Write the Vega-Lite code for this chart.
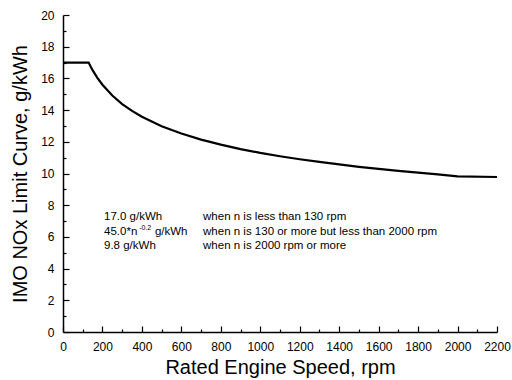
{
  "$schema": "https://vega.github.io/schema/vega-lite/v6.json",
  "width": 434,
  "height": 317,
  "autosize": "none",
  "padding": {"left": 63, "top": 15, "right": 15, "bottom": 48},
  "config": {
    "view": {"stroke": null},
    "font": "Liberation Sans",
    "axis": {
      "grid": false,
      "domainColor": "black",
      "tickColor": "black",
      "labelColor": "black",
      "titleColor": "black",
      "labelFont": "Liberation Sans",
      "titleFont": "Liberation Sans",
      "titleFontWeight": "normal",
      "domainWidth": 1.5,
      "tickWidth": 1.2
    }
  },
  "datasets": {
    "curve": [
      {"speed": 0, "nox": 17.0},
      {"speed": 130, "nox": 17.0},
      {"speed": 140, "nox": 16.75},
      {"speed": 150, "nox": 16.52},
      {"speed": 175, "nox": 16.02},
      {"speed": 200, "nox": 15.6},
      {"speed": 250, "nox": 14.92},
      {"speed": 300, "nox": 14.38},
      {"speed": 350, "nox": 13.95},
      {"speed": 400, "nox": 13.58},
      {"speed": 500, "nox": 12.98},
      {"speed": 600, "nox": 12.52},
      {"speed": 700, "nox": 12.14},
      {"speed": 800, "nox": 11.82},
      {"speed": 900, "nox": 11.54},
      {"speed": 1000, "nox": 11.3},
      {"speed": 1100, "nox": 11.09},
      {"speed": 1200, "nox": 10.9},
      {"speed": 1300, "nox": 10.73},
      {"speed": 1400, "nox": 10.57},
      {"speed": 1500, "nox": 10.42},
      {"speed": 1600, "nox": 10.29},
      {"speed": 1700, "nox": 10.16},
      {"speed": 1800, "nox": 10.05},
      {"speed": 1900, "nox": 9.94},
      {"speed": 2000, "nox": 9.82},
      {"speed": 2200, "nox": 9.78}
    ],
    "notes": [
      {"nx": 208, "ny": 7.26, "label": "17.0 g/kWh"},
      {"nx": 208, "ny": 6.31, "label": "45.0*n"},
      {"nx": 466, "ny": 6.31, "label": "g/kWh"},
      {"nx": 208, "ny": 5.43, "label": "9.8 g/kWh"},
      {"nx": 710, "ny": 7.26, "label": "when n is less than 130 rpm"},
      {"nx": 710, "ny": 6.31, "label": "when n is 130 or more but less than 2000 rpm"},
      {"nx": 710, "ny": 5.43, "label": "when n is 2000 rpm or more"}
    ],
    "sup": [
      {"nx": 386, "ny": 6.31, "label": "-0.2"}
    ]
  },
  "layer": [
    {
      "data": {"name": "curve"},
      "mark": {"type": "line", "color": "black", "strokeWidth": 2.2},
      "encoding": {
        "x": {
          "field": "speed", "type": "quantitative",
          "scale": {"domain": [0, 2200], "nice": false, "zero": false},
          "axis": {
            "values": [0, 200, 400, 600, 800, 1000, 1200, 1400, 1600, 1800, 2000, 2200],
            "format": "d",
            "tickSize": -6, "labelPadding": 15, "labelFontSize": 12,
            "labelFlush": false, "labelOverlap": false,
            "title": "Rated Engine Speed, rpm", "titleFontSize": 20, "titlePadding": 5
          }
        },
        "y": {
          "field": "nox", "type": "quantitative",
          "scale": {"domain": [0, 20], "nice": false},
          "axis": {
            "values": [0, 2, 4, 6, 8, 10, 12, 14, 16, 18, 20],
            "tickSize": -6, "labelPadding": 15, "labelFontSize": 12,
            "labelFlush": false, "labelOverlap": false,
            "title": "IMO NOx Limit Curve, g/kWh", "titleFontSize": 20, "titlePadding": 10
          }
        }
      }
    },
    {
      "data": {"name": "curve"},
      "mark": {"type": "line", "opacity": 0},
      "encoding": {
        "x": {
          "field": "speed", "type": "quantitative",
          "axis": {
            "orient": "bottom",
            "values": [100, 300, 500, 700, 900, 1100, 1300, 1500, 1700, 1900, 2100],
            "tickSize": -3, "labels": false, "domain": false, "title": null
          }
        },
        "y": {
          "field": "nox", "type": "quantitative",
          "axis": {
            "orient": "left",
            "values": [1, 3, 5, 7, 9, 11, 13, 15, 17, 19],
            "tickSize": -3, "labels": false, "domain": false, "title": null
          }
        }
      }
    },
    {
      "data": {"name": "notes"},
      "mark": {"type": "text", "align": "left", "baseline": "middle", "fontSize": 11.5, "color": "black"},
      "encoding": {
        "x": {"field": "nx", "type": "quantitative", "axis": null},
        "y": {"field": "ny", "type": "quantitative", "axis": null},
        "text": {"field": "label"}
      }
    },
    {
      "data": {"name": "sup"},
      "mark": {"type": "text", "align": "left", "baseline": "middle", "fontSize": 7, "dy": -4, "color": "black"},
      "encoding": {
        "x": {"field": "nx", "type": "quantitative", "axis": null},
        "y": {"field": "ny", "type": "quantitative", "axis": null},
        "text": {"field": "label"}
      }
    }
  ],
  "resolve": {"axis": {"x": "independent", "y": "independent"}}
}
